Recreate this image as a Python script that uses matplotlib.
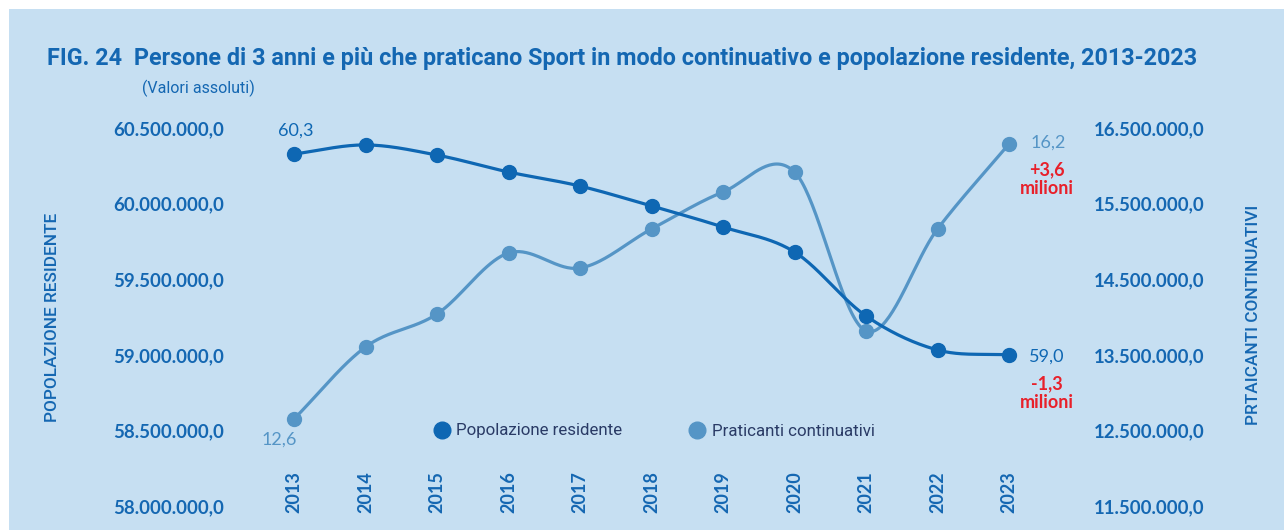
import numpy as np
import matplotlib
matplotlib.use("Agg")
import matplotlib.pyplot as plt
from matplotlib.ticker import FuncFormatter, FixedLocator
from matplotlib.lines import Line2D
from matplotlib.patches import Rectangle
import matplotlib.transforms as mtransforms

years = [2013, 2014, 2015, 2016, 2017, 2018, 2019, 2020, 2021, 2022, 2023]
popolazione = [60.328e6, 60.388e6, 60.321e6, 60.209e6, 60.116e6, 59.984e6,
               59.845e6, 59.680e6, 59.257e6, 59.032e6, 58.999e6]
praticanti = [12.651e6, 13.603e6, 14.040e6, 14.847e6, 14.648e6, 15.164e6,
              15.653e6, 15.918e6, 13.815e6, 15.164e6, 16.290e6]
left_ticks = [58.0e6, 58.5e6, 59.0e6, 59.5e6, 60.0e6, 60.5e6]
right_ticks = [11.5e6, 12.5e6, 13.5e6, 14.5e6, 15.5e6, 16.5e6]

BG = "#C6DFF2"
DARK = "#0E67B3"
LIGHT = "#5595C6"
TXT = "#1467B2"
RED = "#E8202A"
NAVY = "#2A3B66"

W, H = 1285, 530
fig = plt.figure(figsize=(W / 100, H / 100), dpi=100)
fig.patch.set_facecolor("white")
fig.add_artist(Rectangle((9 / W, 0), (W - 10) / W, (H - 9) / H, transform=fig.transFigure,
                         facecolor=BG, edgecolor="none", zorder=0))

# axes placement (pixels)
x_left, x_right = 222.5, 1080.5
y_bottom, y_top = 506, 128
ax = fig.add_axes([x_left / W, (H - y_bottom) / H, (x_right - x_left) / W, (y_bottom - y_top) / H])
ax.set_facecolor("none")
ax2 = ax.twinx()
ax2.set_facecolor("none")

ax.set_xlim(2012, 2024)
ax.set_ylim(58.0e6, 60.5e6)
ax2.set_ylim(11.5e6, 16.5e6)


def smooth(x, y, n=40):
    x = np.asarray(x, float)
    y = np.asarray(y, float)
    xp = np.concatenate([[2 * x[0] - x[1]], x, [2 * x[-1] - x[-2]]])
    yp = np.concatenate([[2 * y[0] - y[1]], y, [2 * y[-1] - y[-2]]])
    xs, ys = [], []
    for i in range(1, len(xp) - 2):
        t = np.linspace(0, 1, n, endpoint=(i == len(xp) - 3))
        mx0 = (xp[i + 1] - xp[i - 1]) / 2
        mx1 = (xp[i + 2] - xp[i]) / 2
        my0 = (yp[i + 1] - yp[i - 1]) / 2
        my1 = (yp[i + 2] - yp[i]) / 2
        h00 = 2 * t**3 - 3 * t**2 + 1
        h10 = t**3 - 2 * t**2 + t
        h01 = -2 * t**3 + 3 * t**2
        h11 = t**3 - t**2
        xs.append(h00 * xp[i] + h10 * mx0 + h01 * xp[i + 1] + h11 * mx1)
        ys.append(h00 * yp[i] + h10 * my0 + h01 * yp[i + 1] + h11 * my1)
    return np.concatenate(xs), np.concatenate(ys)


sx, sy = smooth(years, praticanti)
ax2.plot(sx, sy, color=LIGHT, lw=2.3, zorder=2, solid_capstyle="round")
ax2.plot(years, praticanti, "o", color=LIGHT, ms=10, zorder=3)

sx, sy = smooth(years, popolazione)
ax.plot(sx, sy, color=DARK, lw=2.3, zorder=4, solid_capstyle="round")
ax.plot(years, popolazione, "o", color=DARK, ms=10, zorder=5)
ax.set_zorder(ax2.get_zorder() + 1)

TICKFONT = dict(family="Lato", weight="bold", size=13.4)


def fmt(v, pos=None):
    s = f"{int(round(v)):,}".replace(",", ".")
    return s + ",0"


ax.yaxis.set_major_locator(FixedLocator(left_ticks))
ax.yaxis.set_major_formatter(FuncFormatter(fmt))
ax2.yaxis.set_major_locator(FixedLocator(right_ticks))
ax2.yaxis.set_major_formatter(FuncFormatter(fmt))
for a in (ax, ax2):
    for s in a.spines.values():
        s.set_visible(False)
    a.tick_params(length=0, colors=TXT)
ax.tick_params(axis="y", pad=-1)
ax2.tick_params(axis="y", pad=9.5)
for lab in ax.get_yticklabels() + ax2.get_yticklabels():
    lab.set_fontproperties(matplotlib.font_manager.FontProperties(**TICKFONT))
    lab.set_color(TXT)

ax.set_xticks([])
trans = mtransforms.blended_transform_factory(ax.transData, ax.transAxes)
for yr in years:
    ax.text(yr, -7 / 378, str(yr), transform=trans, rotation=90, ha="center", va="bottom",
            color=TXT, family="Lato", weight="bold", size=13)

# axis titles
fig.text(53 / W, 1 - 317 / H, "POPOLAZIONE RESIDENTE", rotation=90, ha="center", va="center",
         color=TXT, family="Roboto", weight="medium", size=12.4)
fig.text(1253 / W, 1 - 315 / H, "PRTAICANTI CONTINUATIVI", rotation=90, ha="center", va="center",
         color=TXT, family="Roboto", weight="medium", size=12.4)

# title
fig.text(47 / W, 1 - 58 / H, "FIG. 24  Persone di 3 anni e più che praticano Sport in modo continuativo e popolazione residente, 2013-2023",
         ha="left", va="center", color=TXT, family="Roboto", weight="bold", size=16.8)
fig.text(142 / W, 1 - 88 / H, "(Valori assoluti)", ha="left", va="center", color=TXT,
         family="Roboto", size=11.5)

# data labels
LAB = dict(family="Lato", size=13)
ax.annotate("60,3", (years[0], popolazione[0]), xytext=(2, 23), textcoords="offset pixels",
            ha="center", va="center", color=DARK, **LAB)
ax.annotate("59,0", (years[-1], popolazione[-1]), xytext=(38, -2), textcoords="offset pixels",
            ha="center", va="center", color=DARK, **LAB)
ax.annotate("-1,3", (years[-1], popolazione[-1]), xytext=(38, -29), textcoords="offset pixels",
            ha="center", va="center", color=RED, family="Lato", weight="bold", size=13)
ax.annotate("milioni", (years[-1], popolazione[-1]), xytext=(38, -48), textcoords="offset pixels",
            ha="center", va="center", color=RED, family="Lato", weight="bold", size=13)
ax2.annotate("12,6", (years[0], praticanti[0]), xytext=(-15, -21), textcoords="offset pixels",
             ha="center", va="center", color=LIGHT, **LAB)
ax2.annotate("16,2", (years[-1], praticanti[-1]), xytext=(39, 1), textcoords="offset pixels",
             ha="center", va="center", color=LIGHT, **LAB)
ax2.annotate("+3,6", (years[-1], praticanti[-1]), xytext=(38, -26), textcoords="offset pixels",
             ha="center", va="center", color=RED, family="Lato", weight="bold", size=13)
ax2.annotate("milioni", (years[-1], praticanti[-1]), xytext=(38, -45), textcoords="offset pixels",
             ha="center", va="center", color=RED, family="Lato", weight="bold", size=13)

handles = [Line2D([], [], marker="o", ls="none", color=DARK, ms=12),
           Line2D([], [], marker="o", ls="none", color=LIGHT, ms=12)]
leg = ax.legend(handles, ["Popolazione residente", "Praticanti continuativi"], ncol=2,
                loc="center", bbox_to_anchor=(654 / W, 1 - 431 / H), bbox_transform=fig.transFigure,
                frameon=False, handletextpad=0.35, columnspacing=3.9, handlelength=1.0,
                prop=dict(family="Roboto", size=12.2))
for t in leg.get_texts():
    t.set_color(NAVY)

fig.savefig("out.png", dpi=100, facecolor="white")
